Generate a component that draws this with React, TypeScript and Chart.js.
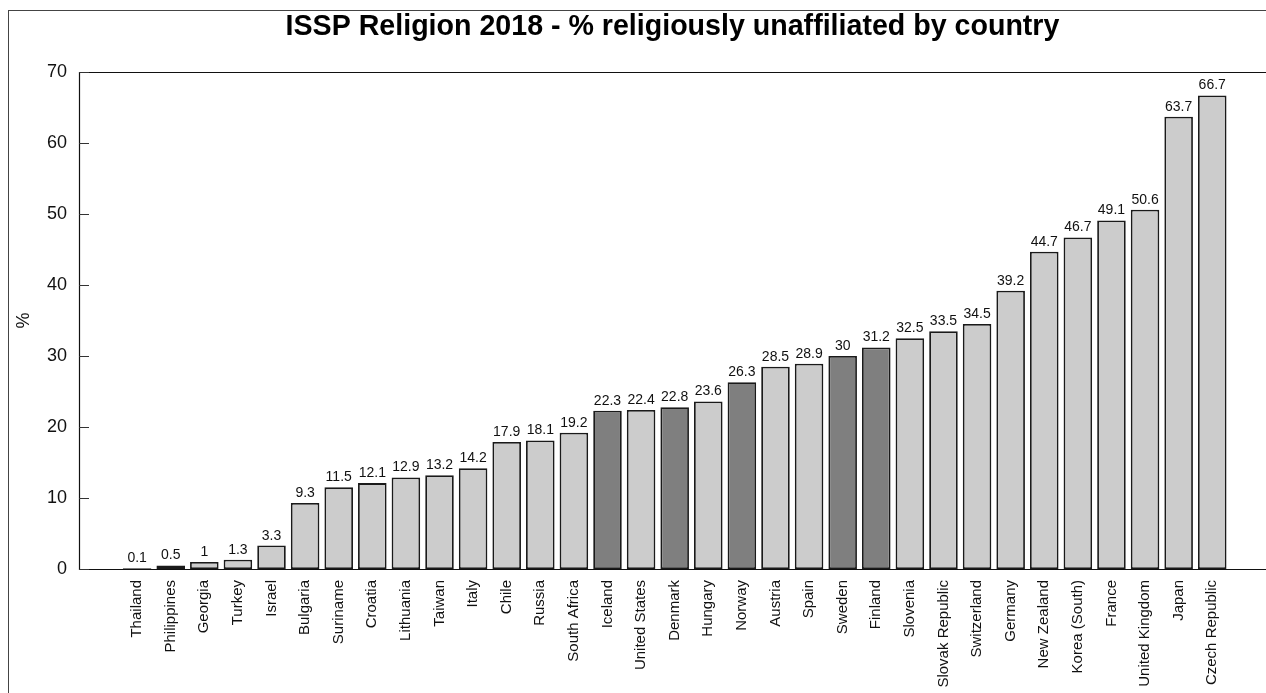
import React, { useEffect, useRef } from "react";
import { Chart, registerables } from "chart.js";

Chart.register(...registerables);

const countries = [
  "Thailand", "Philippines", "Georgia", "Turkey", "Israel", "Bulgaria", "Suriname",
  "Croatia", "Lithuania", "Taiwan", "Italy", "Chile", "Russia", "South Africa",
  "Iceland", "United States", "Denmark", "Hungary", "Norway", "Austria", "Spain",
  "Sweden", "Finland", "Slovenia", "Slovak Republic", "Switzerland", "Germany",
  "New Zealand", "Korea (South)", "France", "United Kingdom", "Japan", "Czech Republic",
];
const unaffiliated = [
  0.1, 0.5, 1, 1.3, 3.3, 9.3, 11.5, 12.1, 12.9, 13.2, 14.2, 17.9, 18.1, 19.2,
  22.3, 22.4, 22.8, 23.6, 26.3, 28.5, 28.9, 30, 31.2, 32.5, 33.5, 34.5, 39.2,
  44.7, 46.7, 49.1, 50.6, 63.7, 66.7,
];
const nordic = ["Iceland", "Denmark", "Norway", "Sweden", "Finland"];
const yTicks = [0, 10, 20, 30, 40, 50, 60, 70];
const titleText = "ISSP Religion 2018 - % religiously unaffiliated by country";
const yTitle = "%";

const FONT = "'Liberation Sans', Arial, Helvetica, sans-serif";

const framePlugin = {
  id: "frame",
  afterDatasetsDraw(chart: any) {
    const { ctx, chartArea } = chart;
    const { left, top, right, bottom } = chartArea;
    ctx.save();
    ctx.strokeStyle = "#111";
    ctx.lineWidth = 1.2;
    ctx.beginPath();
    ctx.moveTo(right + 20, top + 0.5);
    ctx.lineTo(left + 0.5, top + 0.5);
    ctx.lineTo(left + 0.5, bottom + 0.5);
    ctx.lineTo(right + 20, bottom + 0.5);
    ctx.stroke();
    // inward tick marks
    const ys = chart.scales.y;
    ctx.strokeStyle = "#333";
    ctx.lineWidth = 1;
    ys.ticks.forEach((t: any) => {
      const py = Math.round(ys.getPixelForValue(t.value)) + 0.5;
      ctx.beginPath();
      ctx.moveTo(left, py);
      ctx.lineTo(left + 10, py);
      ctx.stroke();
    });
    // value labels
    const meta = chart.getDatasetMeta(0);
    ctx.fillStyle = "#111";
    ctx.font = `14px ${FONT}`;
    ctx.textAlign = "center";
    ctx.textBaseline = "alphabetic";
    meta.data.forEach((bar: any, i: number) => {
      ctx.fillText(String(unaffiliated[i]), bar.x, bar.y - 6);
    });
    ctx.restore();
  },
};

export default function App() {
  const ref = useRef<HTMLCanvasElement | null>(null);

  useEffect(() => {
    if (!ref.current) return;
    Chart.defaults.font.family = FONT;
    const chart = new Chart(ref.current, {
      type: "bar",
      data: {
        labels: countries,
        datasets: [
          {
            data: unaffiliated.map((v, i) => ({ x: i, y: v })) as any,
            backgroundColor: countries.map((c) => (nordic.includes(c) ? "#7f7f7f" : "#cccccc")),
            borderColor: "#1a1a1a",
            borderWidth: 1.8,
            borderSkipped: false,
            categoryPercentage: 1,
            barPercentage: 0.85,
          },
        ],
      },
      options: {
        animation: false,
        responsive: false,
        events: [],
        layout: { padding: 0 },
        plugins: {
          legend: { display: false },
          tooltip: { enabled: false },
          title: {
            display: true,
            text: titleText,
            fullSize: false,
            color: "#000",
            font: { size: 28.6, weight: "bold", family: FONT },
            padding: { top: 10, bottom: 27.7 },
          },
        },
        scales: {
          x: {
            type: "linear",
            offset: false,
            min: -1.73,
            max: 33.6,
            grid: { display: false, drawTicks: false },
            border: { display: false },
            afterBuildTicks: (scale: any) => {
              scale.ticks = countries.map((_, i) => ({ value: i }));
            },
            afterFit: (scale: any) => {
              scale.height = 124;
            },
            ticks: {
              autoSkip: false,
              minRotation: 90,
              maxRotation: 90,
              padding: 11,
              color: "#111",
              font: { size: 15, family: FONT },
              callback: (v: any) => countries[v] ?? "",
            },
          },
          y: {
            min: 0,
            max: 70,
            grid: { display: false, drawTicks: false },
            border: { display: false },
            afterBuildTicks: (scale: any) => {
              scale.ticks = yTicks.map((v) => ({ value: v }));
            },
            afterFit: (scale: any) => {
              scale.width = 79;
            },
            ticks: {
              padding: 12,
              color: "#111",
              font: { size: 18, family: FONT },
            },
            title: {
              display: true,
              text: yTitle,
              color: "#111",
              font: { size: 18, family: FONT },
              padding: { top: 13, bottom: 0 },
            },
          },
        },
      },
      plugins: [framePlugin],
    });
    return () => chart.destroy();
  }, []);

  return (
    <div
      style={{
        position: "fixed",
        left: 0,
        top: 0,
        width: 1266,
        height: 693,
        overflow: "hidden",
        background: "#fff",
      }}
    >
      <div
        style={{
          position: "absolute",
          left: 8,
          top: 10,
          width: 1300,
          height: 720,
          borderLeft: "1.5px solid #444",
          borderTop: "1.5px solid #444",
        }}
      />
      <canvas
        ref={ref}
        width={1266}
        height={693}
        style={{ position: "absolute", left: 0, top: 0, width: 1266, height: 693 }}
      />
    </div>
  );
}
